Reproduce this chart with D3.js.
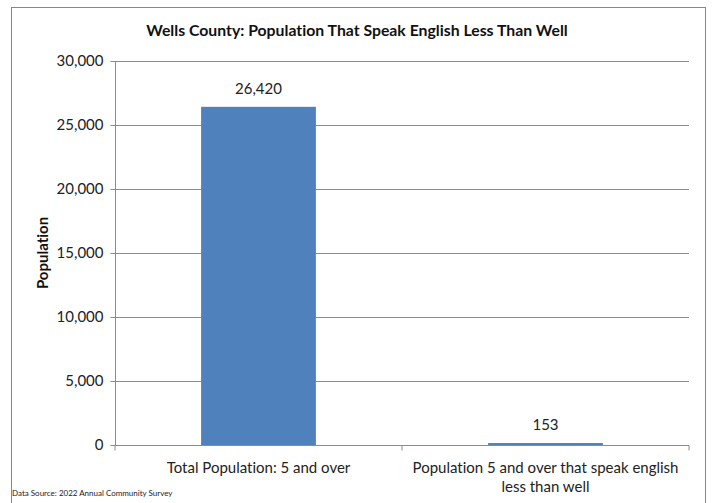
<!DOCTYPE html>
<html><head><meta charset="utf-8">
<script src="https://cdn.jsdelivr.net/npm/d3@7"></script>
<style>body{margin:0;background:#fff;} text{font-family:Lato, "Open Sans", sans-serif; font-variant-ligatures:none; font-feature-settings:"liga" 0, "dlig" 0;}</style>
</head><body>
<svg id="c" width="713" height="503"></svg>
<script>
const categories = ["Total Population: 5 and over", "Population 5 and over that speak english less than well"];
const values = [26420, 153];
const yTicks = [0, 5000, 10000, 15000, 20000, 25000, 30000];
const title = "Wells County: Population That Speak English Less Than Well";
const yTitle = "Population";
const source = "Data Source: 2022 Annual Community Survey";

const svg = d3.select("#c");
svg.append("rect").attr("x",11.5).attr("y",7.5).attr("width",694).attr("height",500).attr("fill","#fff").attr("stroke","#888");

const m = {l:115, r:689, t:61, b:445};
const x = d3.scaleBand().domain(categories).range([m.l, m.r]).paddingInner(0.6).paddingOuter(0.3);
const y = d3.scaleLinear().domain([0,30000]).range([m.b, m.t]);

// gridlines
svg.append("g").selectAll("line").data(yTicks.filter(d=>d>0)).join("line")
  .attr("x1",m.l).attr("x2",m.r).attr("y1",d=>Math.round(y(d))+0.5).attr("y2",d=>Math.round(y(d))+0.5)
  .attr("stroke","#8c8c8c").attr("stroke-width",1);

// y axis
const ya = svg.append("g").attr("transform",`translate(${m.l+0.5},0)`)
  .call(d3.axisLeft(y).tickValues(yTicks).tickSize(5).tickPadding(7).tickFormat(d3.format(",")));
ya.selectAll("path,line").attr("stroke","#8c8c8c");
ya.select(".domain").attr("d",`M0,${m.t}V${m.b}`);
ya.selectAll("text").attr("font-size",15).attr("fill","#222").style("font-family","Lato, sans-serif");

// bars
svg.append("g").selectAll("rect").data(values).join("rect")
  .attr("x",(d,i)=>x(categories[i])).attr("width",x.bandwidth())
  .attr("y",d=>y(d)).attr("height",d=>y(0)-y(d)).attr("fill","#4F81BD");

// x axis
const xa = svg.append("g").attr("transform",`translate(0,${m.b+0.5})`);
xa.append("line").attr("x1",m.l).attr("x2",m.r).attr("stroke","#8c8c8c");
const step = (m.r-m.l)/categories.length;
xa.selectAll("line.t").data(d3.range(categories.length+1)).join("line").attr("class","t")
  .attr("x1",i=>m.l+i*step).attr("x2",i=>m.l+i*step).attr("y1",0).attr("y2",5).attr("stroke","#8c8c8c");

// x labels
const xl = svg.append("g").selectAll("text").data(categories).join("text")
  .attr("x",d=>x(d)+x.bandwidth()/2).attr("y",m.b+28).attr("text-anchor","middle")
  .attr("font-size",15).attr("fill","#222");
xl.each(function(d){
  const t=d3.select(this);
  const lines = d.length>40 ? ["Population 5 and over that speak english","less than well"] : [d];
  lines.forEach((ln,k)=>t.append("tspan").attr("x",t.attr("x")).attr("dy",k?19:0).text(ln));
});

// value labels
svg.append("g").selectAll("text").data(values).join("text")
  .attr("x",(d,i)=>x(categories[i])+x.bandwidth()/2).attr("y",d=>y(d)-13)
  .attr("text-anchor","middle").attr("font-size",15).attr("fill","#222").text(d3.format(","));

// title
svg.append("text").attr("x",357).attr("y",36).attr("text-anchor","middle").attr("font-size",15.8)
  .attr("font-weight","bold").attr("fill","#111").text(title);
// y title
svg.append("text").attr("transform",`translate(48,${(m.t+m.b)/2}) rotate(-90)`).attr("text-anchor","middle")
  .attr("font-size",15).attr("font-weight","bold").attr("fill","#111").text(yTitle);
// source
svg.append("text").attr("x",12).attr("y",496).attr("font-size",8).attr("fill","#222").text(source);
</script>
</body></html>
